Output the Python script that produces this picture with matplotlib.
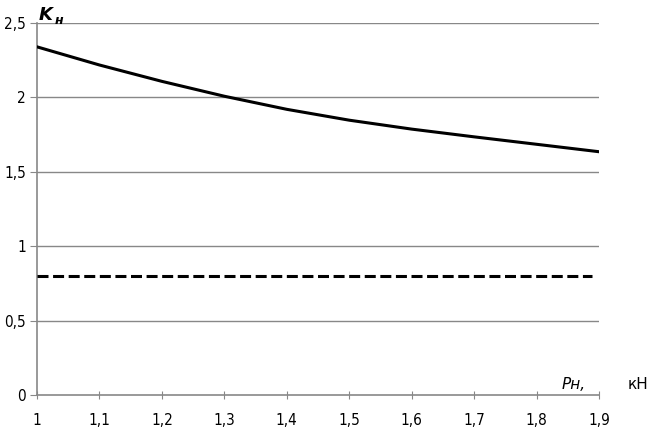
import numpy as np
import matplotlib.pyplot as plt

# load factor vs. load
p = [1.0, 1.1, 1.2, 1.3, 1.4, 1.5, 1.6, 1.7, 1.8, 1.9]
k_solid = [2.34, 2.218, 2.108, 2.008, 1.92, 1.847, 1.787, 1.735, 1.685, 1.635]
k_dash = [0.80, 0.80]
p_dash = [1.0, 1.888]

xticks = [1.0, 1.1, 1.2, 1.3, 1.4, 1.5, 1.6, 1.7, 1.8, 1.9]
xlabels = ['1', '1,1', '1,2', '1,3', '1,4', '1,5', '1,6', '1,7', '1,8', '1,9']
yticks = [0, 0.5, 1, 1.5, 2, 2.5]
ylabels = ['0', '0,5', '1', '1,5', '2', '2,5']

fig = plt.figure(figsize=(6.59, 4.33), dpi=100)
ax = fig.add_axes([0.0561, 0.0878, 0.853, 0.859])

for y in yticks[1:]:
    ax.axhline(y, color='#888888', lw=1.0, zorder=1)

ax.plot(p, k_solid, color='black', lw=2.2, zorder=3, solid_joinstyle='round')
ax.plot(p_dash, k_dash, color='black', lw=2.2, ls=(0, (3.6, 1.5)), zorder=3)

ax.set_xlim(1.0, 1.9)
ax.set_ylim(0, 2.5)
ax.set_xticks(xticks)
ax.set_xticklabels(xlabels)
ax.set_yticks(yticks)
ax.set_yticklabels(ylabels)

for s in ['top', 'right']:
    ax.spines[s].set_visible(False)
for s in ['left', 'bottom']:
    ax.spines[s].set_color('#888888')
    ax.spines[s].set_linewidth(1.2)

ax.tick_params(axis='x', direction='inout', length=6, color='#888888',
               labelsize=11, pad=10)
ax.tick_params(axis='y', direction='out', length=5, color='#888888',
               labelsize=11, pad=3)
for lab in ax.get_xticklabels() + ax.get_yticklabels():
    lab.set_fontstretch('condensed')

fig.text(0.058, 0.965, 'K', fontsize=13, fontstyle='italic', fontweight='bold',
         va='center', ha='left')
fig.text(0.083, 0.952, 'н', fontsize=9, fontstyle='italic', fontweight='bold',
         va='center', ha='left')
fig.text(0.852, 0.112, 'Pн,', fontsize=11, fontstyle='italic', va='center', ha='left')
fig.text(0.952, 0.112, 'кН', fontsize=11, va='center', ha='left')

fig.savefig('out.png', dpi=100)
